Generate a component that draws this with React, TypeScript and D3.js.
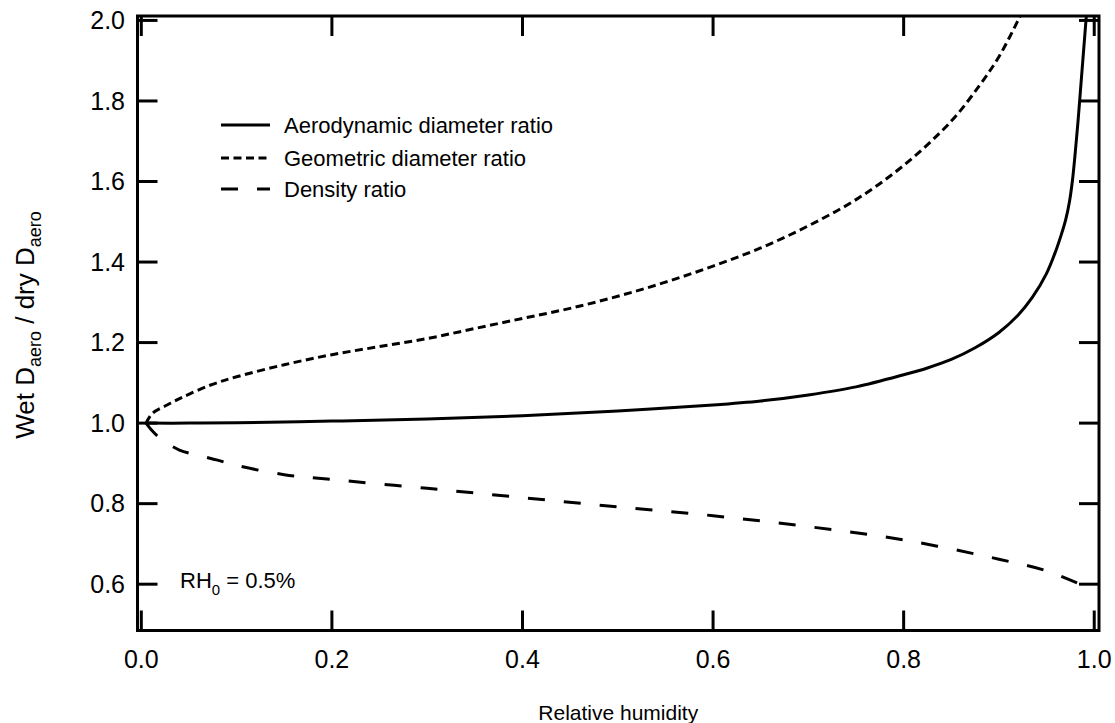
import React, { useEffect, useRef } from 'react'
import * as d3 from 'd3'

// relative humidity values for each series
const aeroRH = [0.005, 0.05, 0.1, 0.2, 0.3, 0.4, 0.5, 0.6, 0.65, 0.7, 0.75, 0.8, 0.825, 0.85, 0.875, 0.9, 0.92, 0.935, 0.95, 0.96, 0.965, 0.97, 0.974, 0.977, 0.98, 0.983, 0.986, 0.989, 0.992]
const aeroRatio = [1.0, 1.0, 1.001, 1.005, 1.01, 1.018, 1.03, 1.045, 1.055, 1.07, 1.09, 1.12, 1.137, 1.158, 1.187, 1.225, 1.268, 1.312, 1.372, 1.43, 1.465, 1.505, 1.55, 1.6, 1.67, 1.75, 1.84, 1.93, 2.02]

const geoRH = [0.005, 0.012, 0.027, 0.044, 0.072, 0.1, 0.15, 0.2, 0.25, 0.3, 0.35, 0.4, 0.45, 0.5, 0.55, 0.6, 0.65, 0.7, 0.75, 0.8, 0.85, 0.88, 0.9, 0.92, 0.93]
const geoRatio = [1.0, 1.025, 1.045, 1.065, 1.094, 1.115, 1.145, 1.17, 1.19, 1.21, 1.235, 1.26, 1.285, 1.315, 1.35, 1.39, 1.435, 1.49, 1.555, 1.64, 1.75, 1.84, 1.91, 2.0, 2.05]

const densRH = [0.005, 0.01, 0.02, 0.04, 0.06, 0.08, 0.1, 0.15, 0.2, 0.3, 0.4, 0.5, 0.6, 0.7, 0.8, 0.9, 0.95, 0.985]
const densRatio = [1.0, 0.985, 0.962, 0.933, 0.92, 0.908, 0.895, 0.872, 0.86, 0.838, 0.815, 0.792, 0.77, 0.743, 0.71, 0.662, 0.633, 0.6]

const xTicks = [0, 0.2, 0.4, 0.6, 0.8, 1.0]
const yTicks = [0.6, 0.8, 1.0, 1.2, 1.4, 1.6, 1.8, 2.0]

const legendLabels = ['Aerodynamic diameter ratio', 'Geometric diameter ratio', 'Density ratio']
const dashes = [null, '8,4.5', '17,19']

const FONT = '"Liberation Sans", Arial, Helvetica, sans-serif'

function App() {
  const ref = useRef<SVGSVGElement | null>(null)

  useEffect(() => {
    const svg = d3.select(ref.current)
    svg.selectAll('*').remove()

    const width = 1115
    const height = 723
    const left = 137.5
    const right = 1099
    const top = 16
    const bottom = 630.5

    svg.attr('width', width).attr('height', height)

    const x = d3.scaleLinear().domain([-0.004, 1.005]).range([left, right])
    const y = d3.scaleLinear().domain([0.485, 2.011]).range([bottom, top])

    svg.append('defs')
      .append('clipPath')
      .attr('id', 'plot-clip')
      .append('rect')
      .attr('x', left)
      .attr('y', top)
      .attr('width', right - left)
      .attr('height', bottom - top)

    const line = d3.line<[number, number]>()
      .x(d => x(d[0]))
      .y(d => y(d[1]))
      .curve(d3.curveCatmullRom.alpha(0.5))

    const series = [
      d3.zip(aeroRH, aeroRatio) as [number, number][],
      d3.zip(geoRH, geoRatio) as [number, number][],
      d3.zip(densRH, densRatio) as [number, number][]
    ]

    const plot = svg.append('g').attr('clip-path', 'url(#plot-clip)')
    series.forEach((s, i) => {
      plot.append('path')
        .attr('d', line(s))
        .attr('fill', 'none')
        .attr('stroke', '#000')
        .attr('stroke-width', 3)
        .attr('stroke-dasharray', dashes[i])
    })

    // frame
    svg.append('rect')
      .attr('x', left)
      .attr('y', top)
      .attr('width', right - left)
      .attr('height', bottom - top)
      .attr('fill', 'none')
      .attr('stroke', '#000')
      .attr('stroke-width', 3)

    // ticks, mirrored on all four sides and pointing inward
    const tickLen = 20
    const ticks = svg.append('g').attr('stroke', '#000').attr('stroke-width', 3)
    xTicks.forEach(t => {
      ticks.append('line').attr('x1', x(t)).attr('x2', x(t)).attr('y1', bottom).attr('y2', bottom - tickLen)
      ticks.append('line').attr('x1', x(t)).attr('x2', x(t)).attr('y1', top).attr('y2', top + tickLen)
    })
    yTicks.forEach(t => {
      ticks.append('line').attr('x1', left).attr('x2', left + tickLen).attr('y1', y(t)).attr('y2', y(t))
      ticks.append('line').attr('x1', right).attr('x2', right - tickLen).attr('y1', y(t)).attr('y2', y(t))
    })

    const fmt = d3.format('.1f')

    svg.append('g')
      .selectAll('text')
      .data(xTicks)
      .enter()
      .append('text')
      .attr('x', d => x(d))
      .attr('y', 668)
      .attr('text-anchor', 'middle')
      .attr('font-family', FONT)
      .attr('font-size', 25)
      .text(d => fmt(d))

    svg.append('g')
      .selectAll('text')
      .data(yTicks)
      .enter()
      .append('text')
      .attr('x', 125)
      .attr('y', d => y(d))
      .attr('dy', '0.35em')
      .attr('text-anchor', 'end')
      .attr('font-family', FONT)
      .attr('font-size', 25)
      .text(d => fmt(d))

    // axis titles
    svg.append('text')
      .attr('x', (left + right) / 2)
      .attr('y', 720)
      .attr('text-anchor', 'middle')
      .attr('font-family', FONT)
      .attr('font-size', 21)
      .text('Relative humidity')

    const yTitle = svg.append('text')
      .attr('transform', 'translate(34,325) rotate(-90)')
      .attr('text-anchor', 'middle')
      .attr('font-family', FONT)
      .attr('font-size', 26)
    yTitle.append('tspan').text('Wet D')
    yTitle.append('tspan').attr('font-size', 18).attr('dy', 7).text('aero')
    yTitle.append('tspan').attr('dy', -7).text(' / dry D')
    yTitle.append('tspan').attr('font-size', 18).attr('dy', 7).text('aero')

    // legend
    const legendY = [125, 158, 189]
    legendLabels.forEach((label, i) => {
      svg.append('line')
        .attr('x1', 221)
        .attr('x2', 270)
        .attr('y1', legendY[i])
        .attr('y2', legendY[i])
        .attr('stroke', '#000')
        .attr('stroke-width', 3)
        .attr('stroke-dasharray', dashes[i])
      svg.append('text')
        .attr('x', 284)
        .attr('y', legendY[i] + 8)
        .attr('font-family', FONT)
        .attr('font-size', 22)
        .text(label)
    })

    // annotation
    const note = svg.append('text')
      .attr('x', 180)
      .attr('y', 588)
      .attr('font-family', FONT)
      .attr('font-size', 22)
    note.append('tspan').text('RH')
    note.append('tspan').attr('font-size', 15).attr('dy', 7).text('0')
    note.append('tspan').attr('dy', -7).text(' = 0.5%')
  }, [])

  return (
    <svg
      ref={ref}
      width={1115}
      height={723}
      style={{ position: 'absolute', left: 0, top: 0, background: '#fff' }}
    />
  )
}

export default App
